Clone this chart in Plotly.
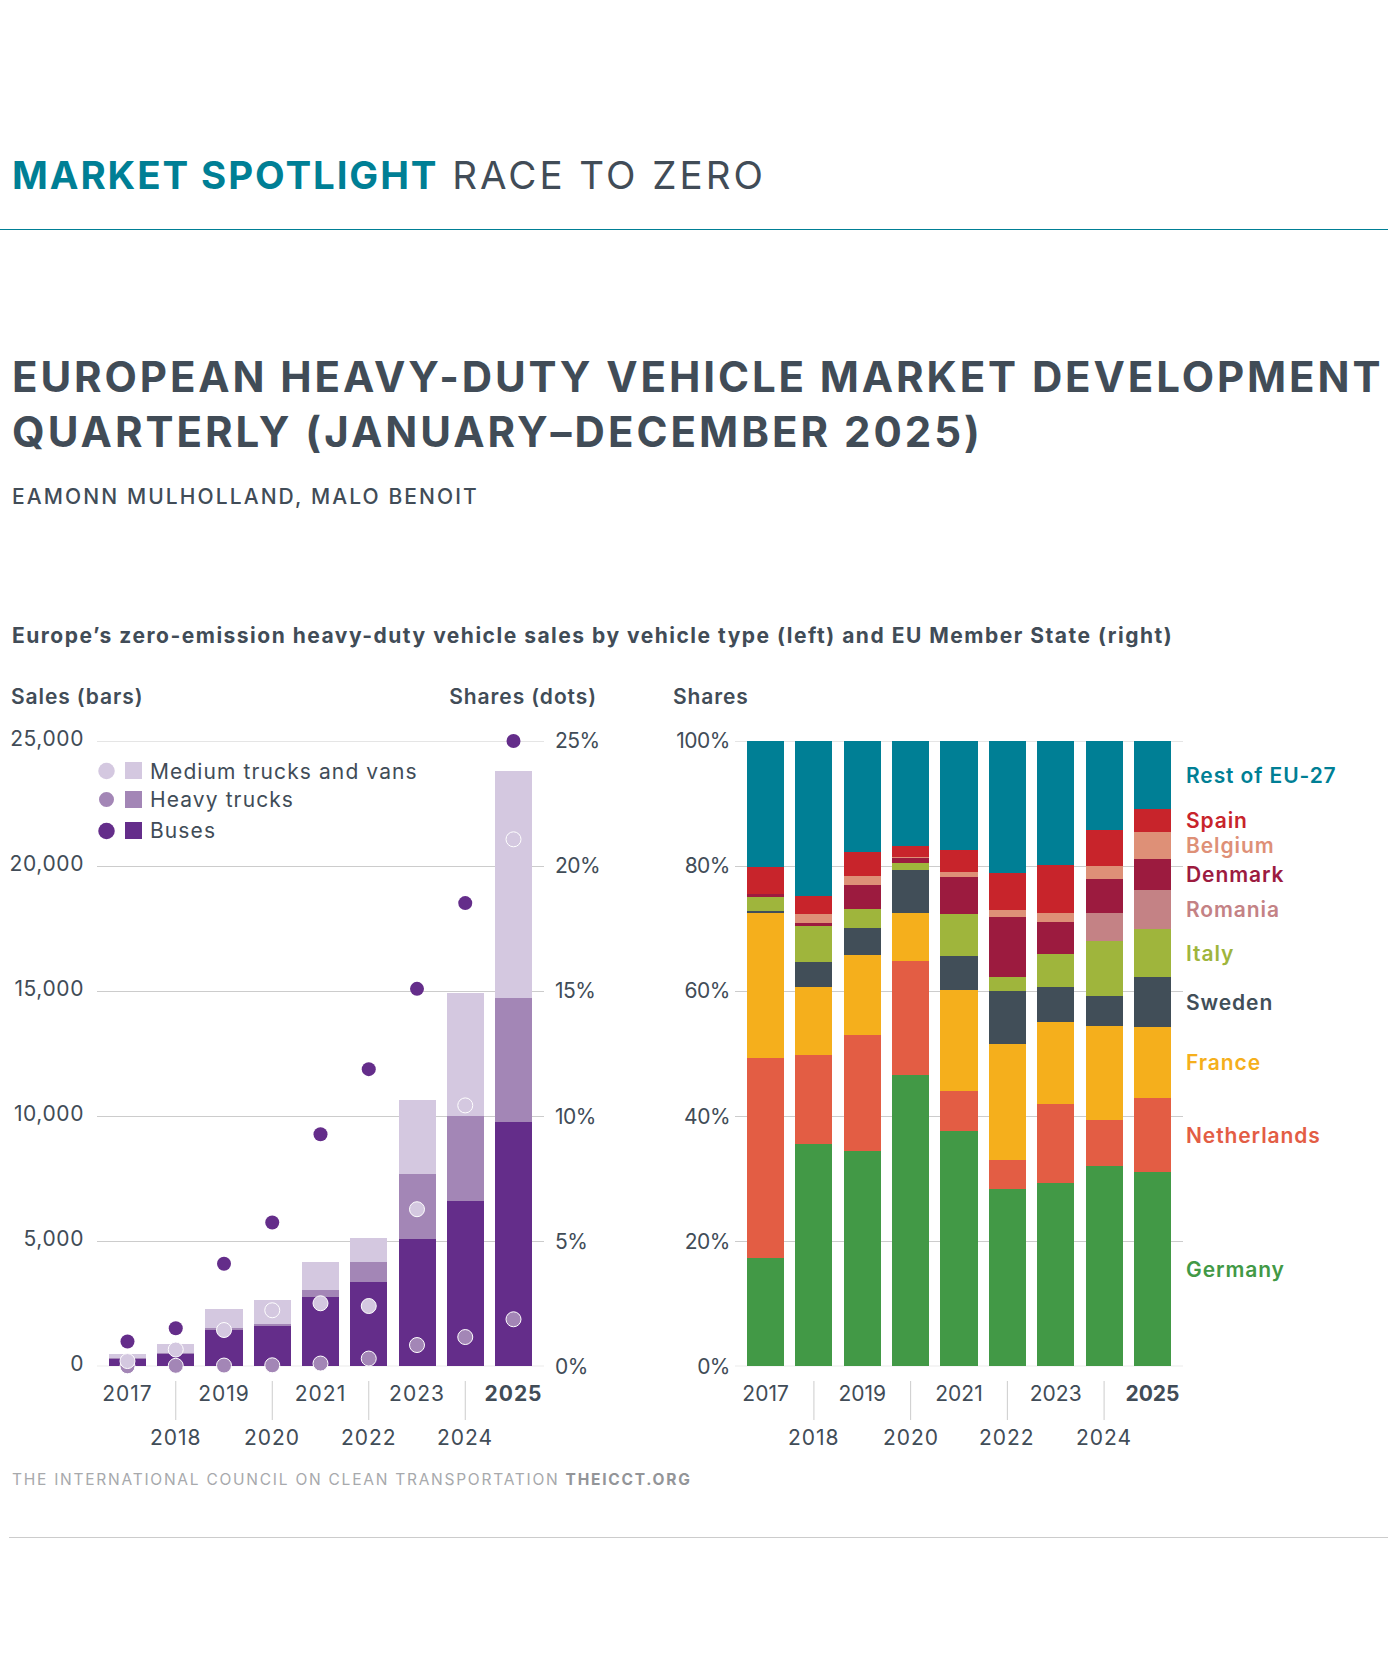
import json
import plotly.graph_objs as go
from plotly.subplots import make_subplots

W, H = 1388, 1653

years = ['2017', '2018', '2019', '2020', '2021', '2022', '2023', '2024', '2025']
odd_years = ['2017', '2019', '2021', '2023', '2025']
odd_labels = ['2017', '2019', '2021', '2023', '<b>2025</b>']
even_years = ['2018', '2020', '2022', '2024']

# left panel, sales by vehicle type (stacked bars)
sales_buses = [306, 506, 1451, 1611, 2770, 3369, 5087, 6605, 9760]
sales_heavy = [40, 27, 80, 80, 279, 799, 2596, 3395, 4973]
sales_medium = [147, 359, 759, 959, 1119, 959, 2956, 4933, 9080]

# left panel, shares (dots)
share_buses = [0.99, 1.52, 4.1, 5.75, 9.28, 11.88, 15.09, 18.52, 25.0]
share_heavy = [0.0, 0.02, 0.03, 0.04, 0.11, 0.31, 0.85, 1.17, 1.88]
share_medium = [0.21, 0.67, 1.45, 2.24, 2.52, 2.41, 6.28, 10.43, 21.07]

sales_ticks = [0, 5000, 10000, 15000, 20000, 25000]
sales_ticktext = ['0', '5,000', '10,000', '15,000', '20,000', '25,000']
share_ticks = [0, 5, 10, 15, 20, 25]
share_ticktext = ['0%', '5%', '10%', '15%', '20%', '25%']
country_ticks = [0, 20, 40, 60, 80, 100]
country_ticktext = ['0%', '20%', '40%', '60%', '80%', '100%']

# right panel, share by member state
germany = [17.37, 35.59, 34.42, 46.6, 37.61, 28.34, 29.3, 32.02, 31.06]
netherlands = [31.98, 14.23, 18.6, 18.25, 6.39, 4.64, 12.63, 7.35, 11.83]
france = [23.17, 10.87, 12.79, 7.67, 16.2, 18.6, 13.17, 15.07, 11.41]
sweden = [0.32, 4.0, 4.31, 6.88, 5.45, 8.47, 5.59, 4.81, 7.99]
italy = [2.26, 5.75, 3.04, 1.1, 6.71, 2.24, 5.28, 8.79, 7.67]
romania = [0, 0, 0, 0, 0, 0, 0, 4.48, 6.24]
denmark = [0.48, 0.48, 3.84, 0.8, 5.91, 9.59, 5.11, 5.43, 4.95]
belgium = [0, 1.44, 1.43, 0.16, 0.8, 1.12, 1.44, 2.08, 4.31]
spain = [4.32, 2.87, 3.84, 1.81, 3.51, 5.9, 7.68, 5.75, 3.64]
rest = [20.1, 24.77, 17.73, 16.73, 17.42, 21.1, 19.8, 14.22, 10.9]

countries = [
    ('Germany', germany, '#429946', 1269),
    ('Netherlands', netherlands, '#e35d44', 1135),
    ('France', france, '#f5af1c', 1062),
    ('Sweden', sweden, '#414e58', 1002),
    ('Italy', italy, '#9fb53c', 953),
    ('Romania', romania, '#c48285', 909),
    ('Denmark', denmark, '#9c1b3f', 874),
    ('Belgium', belgium, '#de9077', 845),
    ('Spain', spain, '#c8242b', 820),
    ('Rest of EU-27', rest, '#007f95', 775),
]

DARK = '#414c57'
TEAL = '#007f95'
GRID = '#cccccc'
BUS = '#642d8a'
HEAVY = '#a386b6'
MEDIUM = '#d4c8e0'
SANS = 'Inter'
XMIN, XMAX = -0.632, 8.632


def px(x):
    return x / W


def py(y):
    return 1 - y / H


def label(x, y, text, size, color=DARK, anchor='left', weight=400):
    return dict(x=px(x), y=py(y), xref='paper', yref='paper', text=text, showarrow=False,
                xanchor=anchor, yanchor='middle', borderpad=0,
                font=dict(family=SANS, size=size, color=color, weight=weight))


fig = make_subplots(rows=1, cols=2, specs=[[{'secondary_y': True}, {}]])

for name, vals, col in [('Buses', sales_buses, BUS), ('Heavy trucks', sales_heavy, HEAVY),
                        ('Medium trucks and vans', sales_medium, MEDIUM)]:
    fig.add_trace(go.Bar(x=years, y=vals, name=name, marker=dict(color=col, line_width=0), width=0.767),
                  row=1, col=1, secondary_y=False)

for name, vals, col, size, line in [('Heavy share', share_heavy, HEAVY, 15, 1),
                                    ('Medium share', share_medium, MEDIUM, 15, 1),
                                    ('Bus share', share_buses, BUS, 14, 0)]:
    fig.add_trace(go.Scatter(x=years, y=vals, name=name, mode='markers', cliponaxis=False,
                             marker=dict(color=col, size=size, line=dict(color='white', width=line))),
                  row=1, col=1, secondary_y=True)

for name, vals, col, _ in countries:
    fig.add_trace(go.Bar(x=years, y=vals, name=name, marker=dict(color=col, line_width=0), width=0.767),
                  row=1, col=2)

fig.update_layout(width=W, height=H, margin=dict(l=0, r=0, t=0, b=0, autoexpand=False), barmode='stack',
                  showlegend=False, plot_bgcolor='white', paper_bgcolor='white',
                  font=dict(family=SANS, color=DARK, size=20))

x_style = dict(type='category', categoryorder='array', categoryarray=years, range=[XMIN, XMAX],
               tickmode='array', tickvals=odd_years, ticktext=odd_labels, ticks='', showgrid=False,
               showline=False, zeroline=False, tickfont=dict(family=SANS, size=21, color=DARK),
               ticklabelstandoff=13, tickangle=0)
fig.update_xaxes(x_style)
fig.update_xaxes(domain=[px(97), px(544)], row=1, col=1)
fig.update_xaxes(domain=[px(735), px(1183)], row=1, col=2)

y_dom = [py(1366.3), py(741)]
fig.update_yaxes(domain=y_dom, range=[0, 25000], tickmode='array', tickvals=sales_ticks, ticktext=sales_ticktext,
                 showgrid=True, gridcolor=GRID, gridwidth=1, zeroline=False, ticks='', ticklabelstandoff=12,
                 tickfont=dict(family=SANS, size=21, color=DARK), row=1, col=1, secondary_y=False)
fig.update_yaxes(domain=y_dom, range=[0, 25], tickmode='array', tickvals=share_ticks, ticktext=share_ticktext,
                 showgrid=False, zeroline=False, ticks='', ticklabelstandoff=10,
                 tickfont=dict(family=SANS, size=21, color=DARK), row=1, col=1, secondary_y=True)
fig.update_yaxes(domain=y_dom, range=[0, 100], tickmode='array', tickvals=country_ticks, ticktext=country_ticktext,
                 showgrid=True, gridcolor=GRID, gridwidth=1, zeroline=False, ticks='', ticklabelstandoff=4,
                 tickfont=dict(family=SANS, size=21, color=DARK), row=1, col=2)

annotations = [
    label(10.5, 175, f'<b>MARKET SPOTLIGHT</b> <span style="color:{DARK}">RACE TO ZERO</span>', 38.5, TEAL),
    label(10.5, 376, '<b>EUROPEAN HEAVY-DUTY VEHICLE MARKET DEVELOPMENT</b>', 42),
    label(10.5, 431, '<b>QUARTERLY (JANUARY–DECEMBER 2025)</b>', 42),
    label(10.5, 497, 'EAMONN MULHOLLAND, MALO BENOIT', 21, weight=500),
    label(10.5, 635, '<b>Europe’s zero-emission heavy-duty vehicle sales by vehicle type (left) and EU Member State (right)</b>', 21),
    label(9.5, 696, 'Sales (bars)', 21, weight=600),
    label(598, 696, 'Shares (dots)', 21, anchor='right', weight=600),
    label(672, 696, 'Shares', 21, weight=600),
    label(149, 771, 'Medium trucks and vans', 21),
    label(149, 800, 'Heavy trucks', 21),
    label(149, 831, 'Buses', 21),
    label(10.5, 1479, 'THE INTERNATIONAL COUNCIL ON CLEAN TRANSPORTATION <b style="color:#939598">THEICCT.ORG</b>', 15.5, '#a7a9ac'),
]
for name, _, col, y in countries:
    annotations.append(label(1185, y, name, 21, col, weight=600))

shapes = [
    dict(type='line', xref='paper', yref='paper', x0=0, x1=1, y0=py(229.5), y1=py(229.5), line=dict(color=TEAL, width=1)),
    dict(type='line', xref='paper', yref='paper', x0=px(9), x1=1, y0=py(1537.5), y1=py(1537.5), line=dict(color=GRID, width=1)),
]
for y0, y1, cy, d, col in [(762, 779, 771, 16.5, MEDIUM), (791, 808, 799.5, 15, HEAVY), (822, 839, 831, 16.5, BUS)]:
    shapes.append(dict(type='rect', xref='paper', yref='paper', x0=px(125), x1=px(142), y0=py(y0), y1=py(y1),
                       fillcolor=col, line_width=0))
    shapes.append(dict(type='circle', xref='paper', yref='paper', x0=px(106.5 - d / 2), x1=px(106.5 + d / 2),
                       y0=py(cy - d / 2), y1=py(cy + d / 2), fillcolor=col, line_width=0))

# plotly leaves out gridlines sitting right on the ends of an axis
for xa, ya, ends in [('x', 'y', [sales_ticks[0], sales_ticks[-1]]), ('x2', 'y3', [country_ticks[0], country_ticks[-1]])]:
    for v in ends:
        shapes.append(dict(type='line', xref=xa, yref=ya, x0=XMIN, x1=XMAX, y0=v, y1=v, layer='below',
                           line=dict(color=GRID, width=1)))

# even years sit on a lower row, with a rule reaching down to them
for xa in ['x', 'x2']:
    for yr in even_years:
        pos = years.index(yr)
        annotations.append(dict(x=pos, y=py(1437), xref=xa, yref='paper', text=yr, showarrow=False, xanchor='center',
                                yanchor='middle', borderpad=0, font=dict(family=SANS, size=21, color=DARK)))
        shapes.append(dict(type='line', xref=xa, yref='paper', x0=pos, x1=pos, y0=py(1381), y1=py(1420),
                           line=dict(color=GRID, width=1)))

fig.update_layout(annotations=annotations, shapes=shapes)

# Inter runs narrower than the original face, so open the tracking up after drawing
tracking = [('MARKET', 3.0), ('EUROPEAN', 2.9), ('QUARTERLY', 3.0), ('EAMONN', 2.1), ('Europe', 1.5), ('THE INT', 1.75),
            ('Sales', 0.9), ('Shares', 0.9), ('Medium', 1.1), ('Heavy', 1.1), ('Buses', 1.1),
            ('Rest', 0.9), ('Spain', 0.9), ('Belgium', 0.9), ('Denmark', 0.9), ('Romania', 0.9), ('Italy', 0.9),
            ('Sweden', 0.9), ('France', 0.9), ('Netherlands', 0.9), ('Germany', 0.9), ('20', 1.0)]
post = """
document.body.style.margin = '0';
var tracking = %s;
document.querySelectorAll('.annotation-text').forEach(function (t) {
  var s = t.textContent;
  tracking.forEach(function (p) {
    if (s.indexOf(p[0]) === 0) {
      var b = t.getBBox();
      var right = s.indexOf('Shares (') === 0;
      t.setAttribute('text-anchor', right ? 'end' : (p[0] === '20' ? 'middle' : 'start'));
      t.setAttribute('x', right ? b.x + b.width : (p[0] === '20' ? b.x + b.width / 2 : b.x));
      t.style.letterSpacing = p[1] + 'px';
      if (p[0] === 'MARKET') {
        t.querySelector('tspan').style.letterSpacing = '1.9px';
      }
    }
  });
});
document.querySelectorAll('.xtick text').forEach(function (t) {
  t.style.letterSpacing = '1px';
});
document.querySelectorAll('.ytick text').forEach(function (t) {
  t.style.letterSpacing = '0.6px';
  t.setAttribute('y', parseFloat(t.getAttribute('y')) - 2.5);
});
document.querySelectorAll('.y2tick text, .y3tick text').forEach(function (t) {
  t.style.letterSpacing = '-0.5px';
});
""" % json.dumps(tracking)

fig.write_html("out.html", post_script=post, config={'displayModeBar': False})
